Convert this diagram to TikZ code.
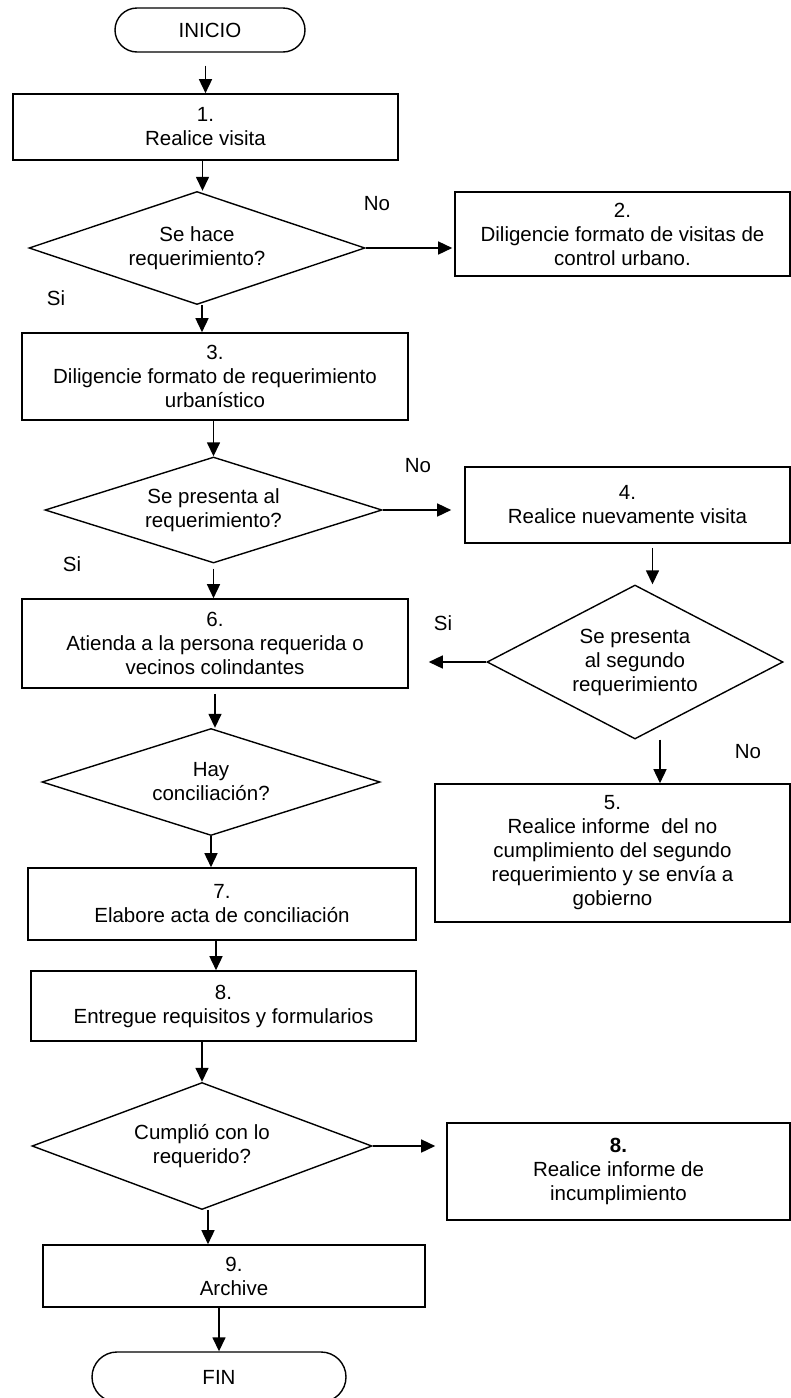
\documentclass[tikz,border=0pt]{standalone}
\usepackage{fontspec}
\setmainfont{Liberation Sans}
\usetikzlibrary{shapes.geometric,arrows.meta,positioning}

\begin{document}
\begin{tikzpicture}[x=1pt, y=-1pt,
        font=\fontsize{20.5}{24}\selectfont,
        stepbox/.style={draw, line width=1.6pt, rectangle, align=center, inner sep=2pt},
        decision/.style={draw, line width=1.4pt, diamond, aspect=3, align=center, inner sep=0pt},
        terminal/.style={draw, line width=1.4pt, rectangle, rounded corners=22pt, align=center},
        answer/.style={inner sep=0pt},
        >={Triangle[length=14pt, width=13pt]},
        flow/.style={->, line width=1.5pt}]
        \useasboundingbox (0,0) rectangle (791,1398);

        % Start
        \node [terminal, minimum width=190pt, minimum height=44pt] (start) at (210,30) {INICIO};

        % Visit and first requirement
        \node [stepbox, minimum width=385pt, minimum height=66pt, node distance=97pt, below of=start, xshift=-4.5pt] (visit) {1.\\Realice visita};
        \node [decision, minimum width=336pt, minimum height=113pt, node distance=121pt, below of=visit, xshift=-8.5pt] (askreq) {Se hace\\requerimiento?};
        \node [stepbox, minimum width=335pt, minimum height=84pt, node distance=425.5pt, right of=askreq, yshift=14pt] (visitform) {2.\\Diligencie formato de visitas de\\control urbano.};
        \node [stepbox, minimum width=386pt, minimum height=87pt, node distance=128.5pt, below of=askreq, xshift=18pt] (reqform) {3.\\Diligencie formato de requerimiento\\urbanístico};

        % Presentation
        \node [decision, minimum width=337pt, minimum height=106pt, node distance=133.5pt, below of=reqform, xshift=-1.5pt] (askpresent) {Se presenta al\\requerimiento?};
        \node [stepbox, minimum width=325pt, minimum height=76pt, node distance=414pt, right of=askpresent, yshift=5pt] (revisit) {4.\\Realice nuevamente visita};
        \node [stepbox, minimum width=386pt, minimum height=89pt, node distance=133.5pt, below of=askpresent, xshift=1.5pt] (attend) {6.\\Atienda a la persona requerida o\\vecinos colindantes};

        % Second requirement
        \node [decision, aspect=1.9, minimum width=296pt, minimum height=154pt, node distance=157pt, below of=revisit, xshift=7.5pt] (asksecond) {Se presenta\\al segundo\\requerimiento};
        \node [stepbox, minimum width=355pt, minimum height=138pt, node distance=191pt, below of=asksecond, xshift=-22.5pt] (report) {5.\\Realice informe\ \ del no\\cumplimiento del segundo\\requerimiento y se envía a\\gobierno};

        % Conciliation
        \node [decision, minimum width=338pt, minimum height=107pt, node distance=138.5pt, below of=attend, xshift=-4pt] (askconcil) {Hay\\conciliación?};
        \node [stepbox, minimum width=388pt, minimum height=72pt, node distance=122pt, below of=askconcil, xshift=11pt] (minutes) {7.\\Elabore acta de conciliación};
        \node [stepbox, minimum width=385pt, minimum height=70pt, node distance=102pt, below of=minutes, xshift=1.5pt] (deliver) {8.\\Entregue requisitos y formularios};

        % Compliance
        \node [decision, minimum width=340pt, minimum height=127pt, node distance=140pt, below of=deliver, xshift=-21.5pt] (askcomply) {Cumplió con lo\\requerido?};
        \node [stepbox, minimum width=343pt, minimum height=97pt, node distance=416.5pt, right of=askcomply, yshift=-25.5pt] (failreport) {\textbf{8.}\\Realice informe de\\incumplimiento};
        \node [stepbox, minimum width=382pt, minimum height=62pt, node distance=130pt, below of=askcomply, xshift=32pt] (archive) {9.\\Archive};

        % End
        \node [terminal, rounded corners=25pt, minimum width=254pt, minimum height=50pt, node distance=101pt, below of=archive, xshift=-15pt] (finish) {FIN};

        % Answers
        \node [answer] (no1) at (377,204) {No};
        \node [answer] (si1) at (56,298) {Si};
        \node [answer] (no2) at (418,466) {No};
        \node [answer] (si2) at (72,564) {Si};
        \node [answer] (si3) at (443,623) {Si};
        \node [answer] (no3) at (748,752) {No};

        % Arrows
        \draw [flow, shorten <=13pt] (start.south -| visit.north) -- (visit.north);
        \draw [flow] ([xshift=-3pt]visit.south) -- ([xshift=-3pt]visit.south |- askreq.north);
        \draw [flow, shorten >=2pt] (askreq.east) -- (askreq.east -| visitform.west);
        \draw [flow] ([xshift=5pt]askreq.south) -- ([xshift=5pt]askreq.south |- reqform.north);
        \draw [flow] (askpresent.north |- reqform.south) -- (askpresent.north);
        \draw [flow, shorten >=13pt] (askpresent.east) -- (askpresent.east -| revisit.west);
        \draw [flow, shorten <=5pt] (askpresent.south) -- (askpresent.south |- attend.north);
        \draw [flow, shorten <=4pt] ([xshift=25pt]revisit.south) -- ([xshift=25pt]revisit.south |- asksecond.north);
        \draw [flow, shorten >=20pt] (asksecond.west) -- (asksecond.west -| attend.east);
        \draw [flow] ([xshift=25pt]asksecond.south) -- ([xshift=25pt]asksecond.south |- report.north);
        \draw [flow, shorten <=5pt] (attend.south) -- (attend.south |- askconcil.north);
        \draw [flow] (askconcil.south) -- (askconcil.south |- minutes.north);
        \draw [flow] ([xshift=-6pt]minutes.south) -- ([xshift=-6pt]minutes.south |- deliver.north);
        \draw [flow] (askcomply.north |- deliver.south) -- (askcomply.north);
        \draw [flow, shorten >=11pt] (askcomply.east) -- (askcomply.east -| failreport.west);
        \draw [flow] ([xshift=6pt]askcomply.south) -- ([xshift=6pt]askcomply.south |- archive.north);
        \draw [flow] (finish.north |- archive.south) -- (finish.north);
    \end{tikzpicture}
\end{document}
